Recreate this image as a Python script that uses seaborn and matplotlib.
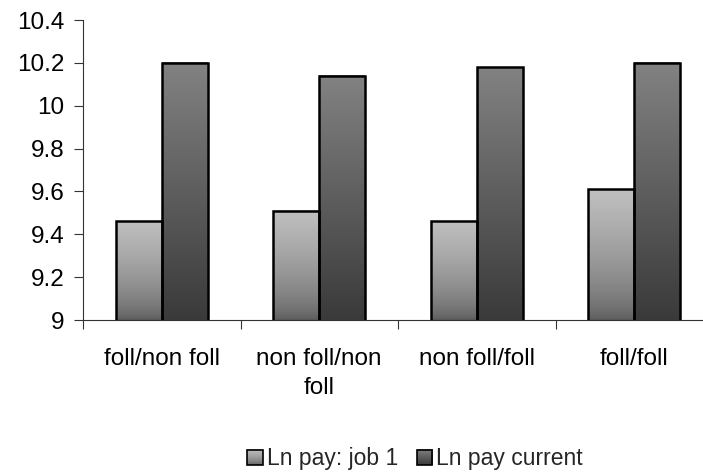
import numpy as np
import pandas as pd
import seaborn as sns
import matplotlib
matplotlib.use("Agg")
import matplotlib.pyplot as plt
from matplotlib.patches import Rectangle
from matplotlib.legend_handler import HandlerBase
from matplotlib.image import BboxImage
from matplotlib.transforms import Bbox, TransformedBbox
from matplotlib.colors import LinearSegmentedColormap

# Data
categories = ["foll/non foll", "non foll/non\nfoll", "non foll/foll", "foll/foll"]
series_names = ["Ln pay: job 1", "Ln pay current"]
job1_pay = [9.46, 9.51, 9.46, 9.61]
current_pay = [10.20, 10.14, 10.18, 10.20]
y_ticks = [9, 9.2, 9.4, 9.6, 9.8, 10, 10.2, 10.4]

df = pd.DataFrame({
    "group": categories * 2,
    "series": [series_names[0]] * 4 + [series_names[1]] * 4,
    "value": job1_pay + current_pay,
})

sns.set_theme(style="white")
plt.rcParams["font.family"] = ["Liberation Sans", "DejaVu Sans"]
FS = 17.5

# vertical gradient maps (bottom -> top)
def grey_ramp(bottom, top, gamma):
    t = np.linspace(0, 1, 256)
    g = bottom + (top - bottom) * t ** gamma
    cols = [(v / 255, v / 255, v / 255) for v in g]
    return LinearSegmentedColormap.from_list("ramp", cols)

ramps = {
    series_names[0]: grey_ramp(88, 192, 0.6),
    series_names[1]: grey_ramp(58, 130, 1.0),
}

fig = plt.figure(figsize=(7.03, 4.72), dpi=100)
ax = fig.add_axes([83 / 703, 1 - 320 / 472, 630 / 703, 300 / 472])

sns.barplot(data=df, x="group", y="value", hue="series", order=categories,
            hue_order=series_names, width=0.584, ax=ax, legend=False,
            palette=["#bbbbbb", "#777777"], saturation=1)

grad = np.linspace(0, 1, 256).reshape(-1, 1)
n = len(categories)
for i, bar in enumerate(ax.patches[: 2 * n]):
    sname = series_names[i // n]
    x0 = bar.get_x()
    w = bar.get_width()
    top = bar.get_y() + bar.get_height()
    ax.imshow(grad, cmap=ramps[sname], origin="lower", aspect="auto",
              extent=[x0, x0 + w, 9, top], zorder=2, interpolation="bilinear")
    bar.set_facecolor("none")
    bar.set_edgecolor("black")
    bar.set_linewidth(1.8)
    bar.set_zorder(3)
ax.set_xlim(-0.5, 3.5)
ax.set_ylim(9, 10.4)

# axes styling
for s in ["top", "right"]:
    ax.spines[s].set_visible(False)
for s in ["left", "bottom"]:
    ax.spines[s].set_color("#333333")
    ax.spines[s].set_linewidth(0.8)

ax.set_yticks(y_ticks)
ax.set_yticklabels([f"{v:g}" for v in y_ticks])
ax.tick_params(axis="y", which="major", left=True, length=6.5, width=0.8,
               color="#333333", pad=7, labelsize=FS, labelcolor="black")
ax.set_xticks(range(n))
ax.set_xticklabels(categories)
ax.tick_params(axis="x", which="major", bottom=False, length=0, pad=20,
               labelsize=FS, labelcolor="black")
ax.set_xticks([-0.5, 0.5, 1.5, 2.5, 3.5], minor=True)
ax.tick_params(axis="x", which="minor", bottom=True, length=6.5, width=0.8,
               color="#333333", direction="out")
ax.set_xlabel("")
ax.set_ylabel("")
ax.grid(False)
for lab in ax.get_xticklabels():
    lab.set_linespacing(1.45)


class GradientSquare(HandlerBase):
    def create_artists(self, legend, orig_handle, xdescent, ydescent,
                       width, height, fontsize, trans):
        size = min(width, height) * 0.95
        x0 = -xdescent + (width - size) / 2
        y0 = -ydescent + (height - size) / 2
        bbox = TransformedBbox(Bbox.from_bounds(x0, y0, size, size), trans)
        img = BboxImage(bbox, cmap=ramps[orig_handle.get_label()],
                        origin="lower", interpolation="bilinear")
        img.set_data(grad)
        rect = Rectangle((x0, y0), size, size, facecolor="none",
                         edgecolor="black", linewidth=1.2, transform=trans)
        return [img, rect]


handles = [Rectangle((0, 0), 1, 1, label=s) for s in series_names]
fig.legend(handles=handles, labels=series_names,
           handler_map={Rectangle: GradientSquare()},
           loc="center", bbox_to_anchor=(0.59, 0.028), ncol=2, frameon=False,
           fontsize=16.5, handlelength=0.72, handleheight=0.72,
           handletextpad=0.15, columnspacing=0.8, borderaxespad=0, borderpad=0)

fig.savefig("out.png", dpi=100)
